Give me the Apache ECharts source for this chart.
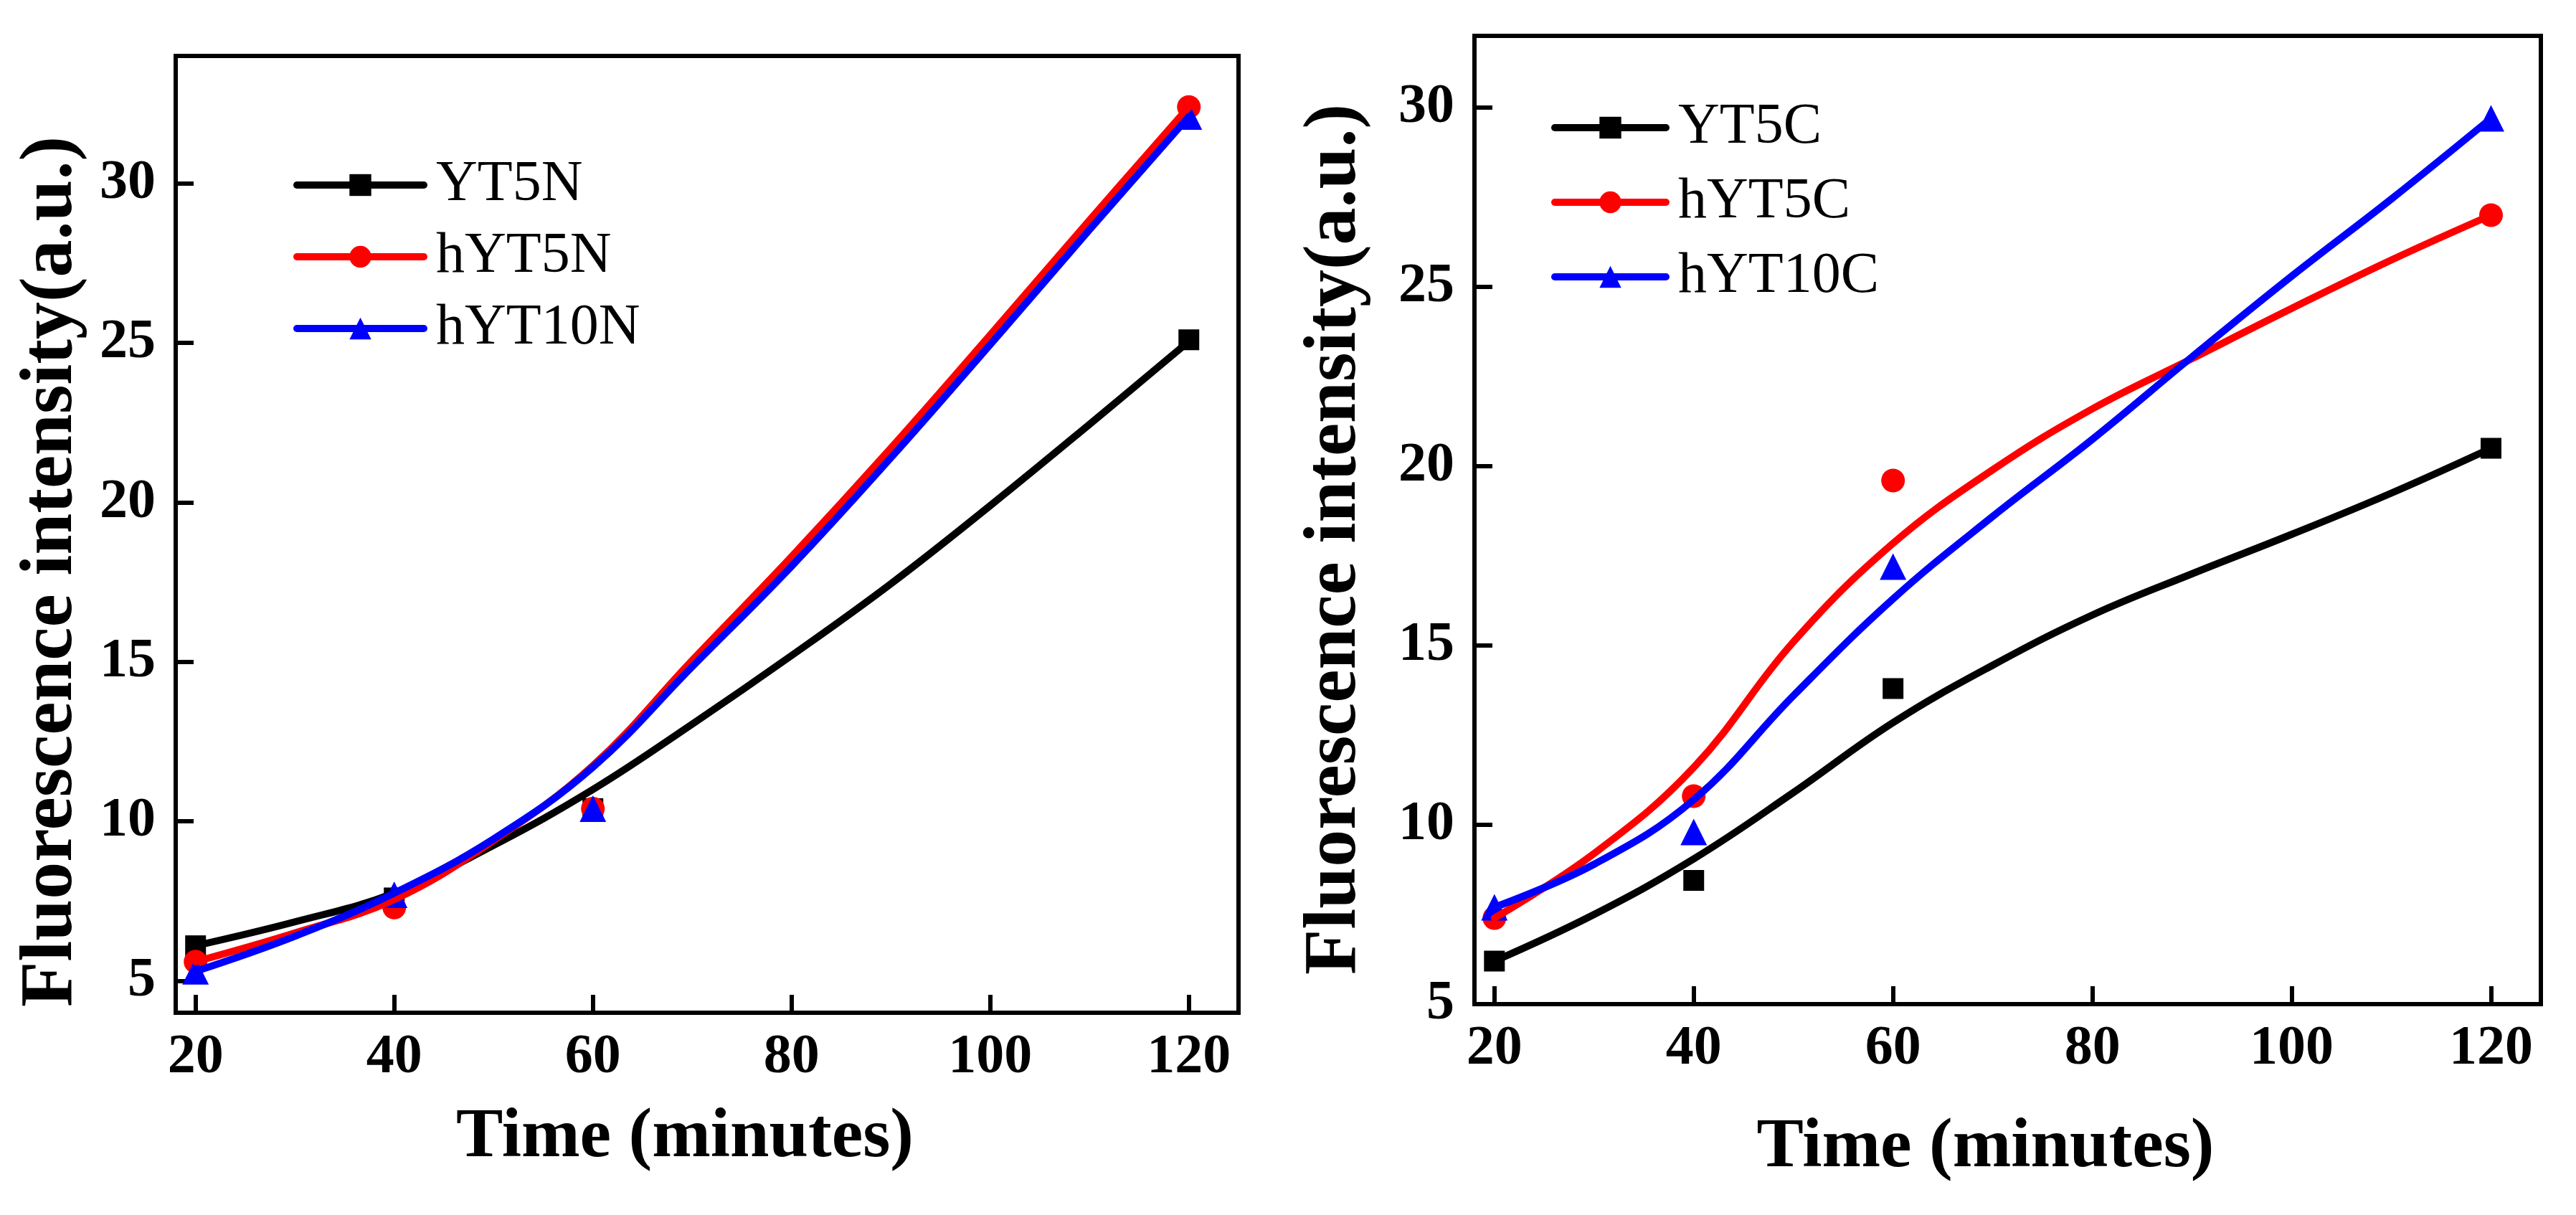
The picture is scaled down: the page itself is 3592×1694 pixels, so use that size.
<!DOCTYPE html>
<html>
<head>
<meta charset="utf-8">
<script src="https://cdn.jsdelivr.net/npm/echarts@6/dist/echarts.min.js"></script>
<style>
html,body{margin:0;padding:0;background:#fff;}
#chart{width:3592px;height:1694px;}
</style>
</head>
<body>
<div id="chart"></div>
<script>
// ---- measured points ----
const times = [20, 40, 60, 120];
const YT5N   = [6.1, 7.6, 10.4, 25.1];
const hYT5N  = [5.6, 7.3, 10.4, 32.4];
const hYT10N = [5.3, 7.7, 10.4, 32.1];
const YT5C   = [6.2, 8.45, 13.8, 20.5];
const hYT5C  = [7.4, 10.8, 19.6, 27.0];
const hYT10C = [7.7, 9.8, 17.2, 29.7];

// ---- fitted curves, every 10 minutes ----
const fitTimes = [20, 30, 40, 50, 60, 70, 80, 90, 100, 110, 120];
const fitYT5N   = [6.1, 6.85, 7.75, 9.25, 11.0, 13.05, 15.2, 17.45, 19.9, 22.45, 25.05];
const fitHYT5N  = [5.6, 6.5, 7.55, 9.4, 11.75, 15.05, 18.3, 21.7, 25.25, 28.85, 32.4];
const fitHYT10N = [5.3, 6.4, 7.75, 9.45, 11.7, 14.85, 18.0, 21.4, 24.95, 28.55, 32.1];
const fitYT5C   = [6.2, 7.5, 9.05, 10.9, 12.85, 14.45, 15.85, 17.0, 18.1, 19.25, 20.5];
const fitHYT5C  = [7.4, 9.2, 11.6, 15.1, 17.85, 19.9, 21.6, 23.0, 24.4, 25.75, 27.0];
const fitHYT10C = [7.7, 8.9, 10.7, 13.6, 16.3, 18.6, 20.75, 23.05, 25.3, 27.45, 29.7];

// ---- tick labels ----
const xTicks = [20, 40, 60, 80, 100, 120];
const yTicksLeft = [5, 10, 15, 20, 25, 30];
const yTicksRight = [5, 10, 15, 20, 25, 30];

const xTitle = 'Time (minutes)';
const yTitle = 'Fluorescence intensity(a.u.)';

const FONT = '"Liberation Serif", "Times New Roman", serif';
const pairs = (xs, ys) => xs.map((x, i) => [x, ys[i]]);

function makeX(gridIndex, nameGap) {
  return {
    type: 'value', gridIndex: gridIndex, min: 18, max: 125,
    name: xTitle, nameLocation: 'middle', nameGap: nameGap, nameMoveOverlap: false,
    nameTextStyle: {fontFamily: FONT, fontWeight: 'bold', fontSize: 98, color: '#000', padding: [0, 62, 0, 0]},
    axisLine: {show: true, onZero: false, lineStyle: {color: '#000', width: 6}},
    axisTick: {show: true, inside: true, length: 25, customValues: xTicks, lineStyle: {color: '#000', width: 6}},
    axisLabel: {show: true, customValues: xTicks, fontFamily: FONT, fontWeight: 'bold', fontSize: 78, color: '#000', margin: 24},
    splitLine: {show: false}, minorTick: {show: false}
  };
}
function makeY(gridIndex, min, max, ticks, nameGap, shift) {
  return {
    type: 'value', gridIndex: gridIndex, min: min, max: max,
    name: yTitle, nameLocation: 'middle', nameGap: nameGap, nameMoveOverlap: false,
    nameTextStyle: {fontFamily: FONT, fontWeight: 'bold', fontSize: 104, color: '#000', padding: [0, shift, 0, 0]},
    axisLine: {show: true, onZero: false, lineStyle: {color: '#000', width: 6}},
    axisTick: {show: true, inside: true, length: 25, customValues: ticks, lineStyle: {color: '#000', width: 6}},
    axisLabel: {show: true, customValues: ticks, fontFamily: FONT, fontWeight: 'bold', fontSize: 78, color: '#000', margin: 28},
    splitLine: {show: false}, minorTick: {show: false}
  };
}
function curve(name, xi, ys, color, symbol) {
  return {
    type: 'line', name: name, xAxisIndex: xi, yAxisIndex: xi,
    data: pairs(fitTimes, ys), smooth: 0.4, symbol: symbol, showSymbol: false,
    lineStyle: {color: color, width: 10, cap: 'round', join: 'round'},
    itemStyle: {color: color}, emphasis: {disabled: true}, silent: true
  };
}
function points(name, xi, ys, color, symbol, size) {
  return {
    type: 'scatter', name: name, xAxisIndex: xi, yAxisIndex: xi,
    data: pairs(times, ys), symbol: symbol, symbolSize: size,
    itemStyle: {color: color, opacity: 1}, emphasis: {disabled: true}, silent: true
  };
}
function legend(names, left, top, itemWidth, itemGap) {
  return {
    data: names, orient: 'vertical', left: left, top: top, padding: 0,
    itemWidth: itemWidth, itemHeight: 38, itemGap: itemGap, selectedMode: false,
    lineStyle: {width: 10, cap: 'round'},
    textStyle: {fontFamily: FONT, fontSize: 80, lineHeight: 80, color: '#000', padding: [0, 0, 0, 12]}
  };
}

const chart = echarts.init(document.getElementById('chart'), null, {renderer: 'canvas'});
chart.setOption({
  animation: false,
  backgroundColor: '#fff',
  grid: [
    {left: 245, top: 78, width: 1482, height: 1334, show: true, borderColor: '#000', borderWidth: 6, containLabel: false, outerBoundsMode: 'none'},
    {left: 2056, top: 50, width: 1487, height: 1350, show: true, borderColor: '#000', borderWidth: 6, containLabel: false, outerBoundsMode: 'none'}
  ],
  xAxis: [makeX(0, 126), makeX(1, 152)],
  yAxis: [makeY(0, 4, 34, yTicksLeft, 121, 104), makeY(1, 5, 32, yTicksRight, 142, 54)],
  legend: [
    legend(['YT5N', 'hYT5N', 'hYT10N'], 409, 218, 177, 20),
    legend(['YT5C', 'hYT5C', 'hYT10C'], 2163, 138, 155, 24)
  ],
  series: [
    curve('YT5N', 0, fitYT5N, '#000000', 'rect'),
    points('YT5N', 0, YT5N, '#000000', 'rect', 29),
    curve('hYT5N', 0, fitHYT5N, '#ff0000', 'circle'),
    points('hYT5N', 0, hYT5N, '#ff0000', 'circle', 33),
    curve('hYT10N', 0, fitHYT10N, '#0000ff', 'triangle'),
    points('hYT10N', 0, hYT10N, '#0000ff', 'triangle', 37),
    curve('YT5C', 1, fitYT5C, '#000000', 'rect'),
    points('YT5C', 1, YT5C, '#000000', 'rect', 29),
    curve('hYT5C', 1, fitHYT5C, '#ff0000', 'circle'),
    points('hYT5C', 1, hYT5C, '#ff0000', 'circle', 33),
    curve('hYT10C', 1, fitHYT10C, '#0000ff', 'triangle'),
    points('hYT10C', 1, hYT10C, '#0000ff', 'triangle', 37)
  ]
});
</script>
</body>
</html>
